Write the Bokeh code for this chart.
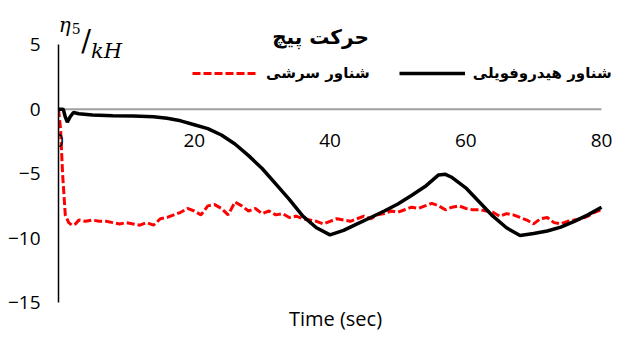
from bokeh.plotting import figure
from bokeh.models import (Range1d, FixedTicker, Label, LabelSet, Legend, LegendItem,
                          ColumnDataSource, Title)
from bokeh.core.properties import value
from bokeh.embed import file_html
from bokeh.resources import INLINE

# ---- data ----
hydro_t = [0, 0.7, 1.0, 1.3, 1.7, 2.2, 3, 5, 8, 11, 14, 16, 18, 20, 22, 24, 26, 28, 30, 32,
           34, 36, 38, 40, 42, 44, 46, 48, 50, 52, 54, 56, 57, 58, 60, 62, 64, 66, 68, 70,
           72, 74, 76, 78, 80]
hydro_v = [0, 0, -0.6, -1.0, -0.6, -0.25, -0.35, -0.45, -0.5, -0.52, -0.58, -0.7, -0.9, -1.2,
           -1.5, -2.0, -2.7, -3.6, -4.6, -5.8, -7.0, -8.3, -9.2, -9.75, -9.4, -8.9, -8.4, -7.9,
           -7.35, -6.7, -6.0, -5.1, -5.05, -5.3, -6.1, -7.2, -8.3, -9.2, -9.8, -9.65, -9.45,
           -9.15, -8.7, -8.2, -7.6]

plan_t = [0, 0.3, 0.6, 1.0, 1.5, 2.0, 2.5, 3, 4, 5, 6, 7, 8, 9, 10, 11, 12, 13, 14, 15, 16,
          17, 18, 19, 20, 21, 22, 23, 24, 25, 26, 27, 28, 29, 30, 31, 32, 33, 34, 35, 36, 37,
          38, 39, 40, 41, 42, 43, 44, 45, 46, 47, 48, 49, 50, 51, 52, 53, 54, 55, 56, 57, 58,
          59, 60, 61, 62, 63, 64, 65, 66, 67, 68, 69, 70, 71, 72, 73, 74, 75, 76, 77, 78, 79, 80]
plan_v = [0, -1.5, -5.0, -8.2, -8.8, -9.0, -8.9, -8.6, -8.7, -8.6, -8.7, -8.7, -8.8, -8.9,
          -8.8, -8.9, -9.0, -8.8, -9.0, -8.5, -8.4, -8.2, -8.0, -7.7, -7.9, -8.2, -7.5, -7.4,
          -7.7, -8.2, -7.2, -7.5, -7.9, -7.7, -8.1, -7.9, -8.2, -8.1, -8.4, -8.3, -8.5, -8.6,
          -8.7, -8.9, -8.7, -8.5, -8.6, -8.7, -8.5, -8.3, -8.5, -8.2, -8.1, -7.9, -8.0, -7.8,
          -7.6, -7.7, -7.5, -7.3, -7.5, -7.8, -7.6, -7.5, -7.7, -7.8, -7.8, -7.9, -8.0, -8.3,
          -8.1, -8.2, -8.4, -8.6, -8.9, -8.5, -8.4, -8.8, -8.9, -8.7, -8.6, -8.5, -8.3, -8.0, -7.8]

x_ticks = [0, 20, 40, 60, 80]
x_tick_labels = ["0", "20", "40", "60", "80"]
y_ticks = [-15, -10, -5, 0, 5]

title_text = "حرکت پیچ"
hydro_label = "شناور هیدروفویلی"
plan_label = "شناور سرشی"
x_title = "Time (sec)"

FONT = "Open Sans"
AR_FONT = "DejaVu Sans"

p = figure(width=612, height=331, output_backend="svg", toolbar_location=None,
           x_range=Range1d(0, 81.62), y_range=Range1d(-15, 8.44),
           min_border_left=58, min_border_right=0, min_border_top=0, min_border_bottom=24)
p.outline_line_color = None
p.grid.visible = False
p.background_fill_color = "white"

# y axis
p.yaxis.ticker = FixedTicker(ticks=y_ticks)
p.yaxis.bounds = (-15, 5)
p.yaxis.axis_line_color = "black"
p.yaxis.axis_line_width = 1.5
p.yaxis.major_tick_line_color = None
p.yaxis.major_tick_out = 0
p.yaxis.major_tick_in = 0
p.yaxis.minor_tick_line_color = None
p.yaxis.major_label_standoff = 18
p.yaxis.major_label_text_font = FONT
p.yaxis.major_label_text_font_size = "19px"
p.yaxis.major_label_text_color = "black"

# x axis: title placed below, tick labels placed at the zero line
p.xaxis.visible = False
p.add_layout(Title(text=x_title, align="center", text_font=FONT, text_font_size="20px",
                   text_font_style="normal", text_color="black", standoff=0, offset=0),
             "below")

# zero line (horizontal axis line crossing at y = 0)
p.segment(x0=[x_ticks[0]], y0=[0], x1=[x_ticks[-1]], y1=[0], line_color="#a0a0a0",
          line_width=1.8)

src_t = ColumnDataSource(dict(x=x_ticks, y=[0] * len(x_ticks), t=x_tick_labels))
p.add_layout(LabelSet(x="x", y="y", text="t", source=src_t, y_offset=-31, text_align="center",
                      text_baseline="middle", text_font=value(FONT),
                      text_font_size=value("19px"), text_color=value("black")))

r_plan = p.line(plan_t, plan_v, line_color="#ff0000", line_width=3, line_dash="8 3")
r_hydro = p.line(hydro_t, hydro_v, line_color="black", line_width=3.5)

legend = Legend(items=[LegendItem(label=plan_label, renderers=[r_plan]),
                       LegendItem(label=hydro_label, renderers=[r_hydro])],
                orientation="horizontal", location=(134, 219),
                glyph_width=66, glyph_height=20, label_standoff=8, spacing=29,
                padding=0, margin=0, border_line_color=None, background_fill_alpha=0,
                label_text_font=AR_FONT, label_text_font_size="15px",
                label_text_font_style="bold", label_text_color="black")
p.add_layout(legend)

# chart title
p.add_layout(Label(x=38.6, y=5.62, text=title_text, text_align="center", text_baseline="middle",
                   text_font=AR_FONT, text_font_size="20px", text_font_style="bold",
                   text_color="black"))

# y-axis title eta5/kH
p.add_layout(Label(x=0.05, y=6.53, text="η", text_font="DejaVu Serif", text_font_style="italic",
                   text_font_size="20px", text_baseline="alphabetic", text_color="black"))
p.add_layout(Label(x=1.95, y=6.30, text="5", text_font="DejaVu Serif",
                   text_font_size="14px", text_baseline="alphabetic", text_color="black"))
p.add_layout(Label(x=3.35, y=5.31, text="/", text_font="DejaVu Serif",
                   text_font_size="29px", text_baseline="alphabetic", text_color="black"))
p.add_layout(Label(x=4.8, y=4.54, text="kH", text_font="DejaVu Serif", text_font_style="italic",
                   text_font_size="21px", text_baseline="alphabetic", text_color="black"))

open("out.html", "w").write(file_html(p, INLINE))
